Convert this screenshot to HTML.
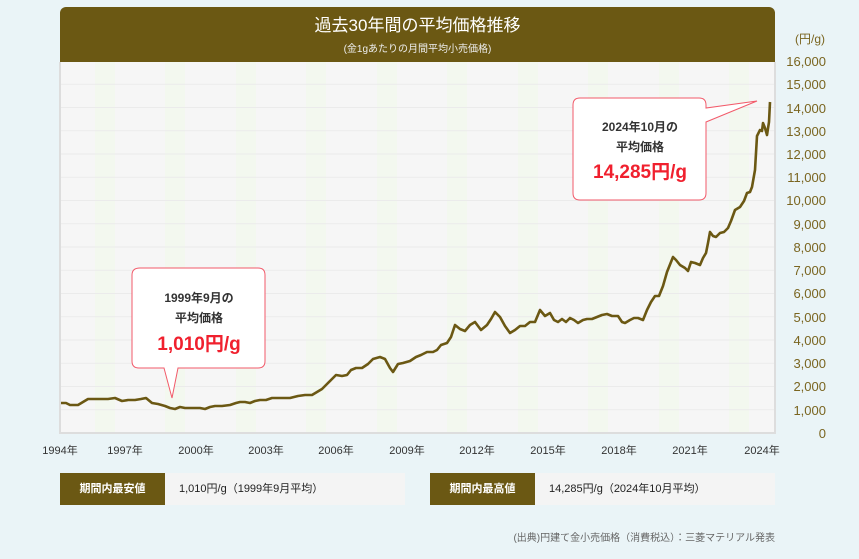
<!DOCTYPE html>
<html><head><meta charset="utf-8"><style>
body{margin:0;width:859px;height:559px;background:#eaf4f7;font-family:"Liberation Sans","Noto Sans CJK JP",sans-serif;overflow:hidden;position:relative}
.hdr{position:absolute;left:60px;top:7px;width:715px;height:55px;background:#6b5813;border-radius:6px 6px 0 0;color:#fff;text-align:center}
.hdr .t{font-size:17px;margin-top:9px;line-height:20px}
.hdr .s{font-size:10px;margin-top:4px;color:#eee}
.box{position:absolute;height:32px;top:473px;background:#f4f4f4;font-size:11px;line-height:32px;color:#222}
.box .l{display:inline-block;width:105px;background:#6b5813;color:#fff;text-align:center;margin-right:14px;font-weight:bold}
</style></head><body>
<div class="hdr"><div class="t">過去30年間の平均価格推移</div><div class="s">(金1gあたりの月間平均小売価格)</div></div>
<svg width="859" height="559" style="position:absolute;left:0;top:0" font-family="Liberation Sans, Noto Sans CJK JP, sans-serif">
<rect x="60" y="62" width="715" height="371" fill="#f6f6f6"/>
<g fill="#f3f8ef">
<rect x="95" y="62" width="20" height="371"/><rect x="165" y="62" width="20" height="371"/><rect x="236" y="62" width="20" height="371"/><rect x="306" y="62" width="20" height="371"/><rect x="377" y="62" width="20" height="371"/><rect x="447" y="62" width="20" height="371"/><rect x="518" y="62" width="20" height="371"/><rect x="588" y="62" width="20" height="371"/><rect x="659" y="62" width="20" height="371"/><rect x="729" y="62" width="20" height="371"/>
</g>
<g stroke="#ebebeb" stroke-width="1">
<line x1="60" x2="775" y1="84.3" y2="84.3"/><line x1="60" x2="775" y1="107.5" y2="107.5"/><line x1="60" x2="775" y1="130.8" y2="130.8"/><line x1="60" x2="775" y1="154" y2="154"/><line x1="60" x2="775" y1="177.3" y2="177.3"/><line x1="60" x2="775" y1="200.5" y2="200.5"/><line x1="60" x2="775" y1="223.8" y2="223.8"/><line x1="60" x2="775" y1="247" y2="247"/><line x1="60" x2="775" y1="270.3" y2="270.3"/><line x1="60" x2="775" y1="293.5" y2="293.5"/><line x1="60" x2="775" y1="316.8" y2="316.8"/><line x1="60" x2="775" y1="340" y2="340"/><line x1="60" x2="775" y1="363.3" y2="363.3"/><line x1="60" x2="775" y1="386.5" y2="386.5"/><line x1="60" x2="775" y1="409.8" y2="409.8"/>
</g>
<path d="M60 62V433H775V62" fill="none" stroke="#ddd" stroke-width="2"/>
<polyline fill="none" stroke="#6b5813" stroke-width="2.6" stroke-linejoin="round" points="61,403 66,403 70,405 78,405 83,402 88,399 94,399 100,399 108,399 115,398 122,401 128,400 135,400 141,399 146,398 152,403 158,404 165,406 170,408 175,409 180,407 185,408 190,408 195,408 200,408 205,409 210,407 215,406 222,406 230,405 236,403 240,402 245,402 250,403 255,401 260,400 266,400 272,398 280,398 290,398 298,396 305,395 312,395 317,392 322,389 327,384 331,380 336,375 342,376 347,375 351,370 356,368 362,368 368,364 373,359 380,357 385,359 390,368 393,372 398,364 403,363 410,361 416,357 421,355 427,352 433,352 437,350 441,345 447,343 451,337 455,325 460,329 465,331 470,325 475,322 481,330 487,325 491,319 495,312 500,317 505,326 510,333 515,330 520,326 525,326 530,322 535,322 540,310 545,316 550,313 554,320 558,322 562,319 566,322 570,318 574,320 578,323 583,320 587,319 592,319 597,317 602,315 607,314 612,316 618,316 622,322 625,323 630,320 634,318 638,318 643,320 647,310 651,302 655,296 659,296 663,286 667,272 671,262 673,257 676,260 680,265 685,268 688,271 691,262 695,263 700,265 703,258 706,253 708,243 710,232 713,236 716,237 720,233 724,232 728,228 731,221 735,210 740,207 744,201 747,193 750,192 752,187 755,170 757,136 760,130 762,131 763,123 765,128 767,135 769,122 770,102"/>
<g fill="#7a6520" font-size="13" text-anchor="end">
<text x="825" y="43" font-size="12">(円/g)</text>
<text x="826" y="66">16,000</text><text x="826" y="89">15,000</text><text x="826" y="113">14,000</text><text x="826" y="136">13,000</text><text x="826" y="159">12,000</text><text x="826" y="182">11,000</text><text x="826" y="205">10,000</text><text x="826" y="229">9,000</text><text x="826" y="252">8,000</text><text x="826" y="275">7,000</text><text x="826" y="298">6,000</text><text x="826" y="322">5,000</text><text x="826" y="345">4,000</text><text x="826" y="368">3,000</text><text x="826" y="391">2,000</text><text x="826" y="415">1,000</text><text x="826" y="438">0</text>
</g>
<g fill="#333" font-size="11" text-anchor="middle">
<text x="60" y="454">1994年</text><text x="125" y="454">1997年</text><text x="196" y="454">2000年</text><text x="266" y="454">2003年</text><text x="336" y="454">2006年</text><text x="407" y="454">2009年</text><text x="477" y="454">2012年</text><text x="548" y="454">2015年</text><text x="619" y="454">2018年</text><text x="690" y="454">2021年</text><text x="762" y="454">2024年</text>
</g>
<path d="M140 268H258Q265 268 265 275V361Q265 368 258 368H178L172 398L164 368H139Q132 368 132 361V275Q132 268 140 268Z" fill="#fff" stroke="#f25a6a" stroke-width="1"/>
<path d="M580 98H699Q706 98 706 105V108L757 101L706 122V193Q706 200 699 200H580Q573 200 573 193V105Q573 98 580 98Z" fill="#fff" stroke="#f25a6a" stroke-width="1"/>
<g text-anchor="middle" font-weight="bold">
<text x="199" y="302" font-size="12" fill="#333">1999年9月の</text>
<text x="199" y="322" font-size="12" fill="#333">平均価格</text>
<text x="199" y="350" font-size="19" fill="#f0202e">1,010円/g</text>
<text x="640" y="131" font-size="12" fill="#333">2024年10月の</text>
<text x="640" y="151" font-size="12" fill="#333">平均価格</text>
<text x="640" y="178" font-size="19" fill="#f0202e">14,285円/g</text>
</g>
<text x="775" y="541" font-size="10" fill="#666" text-anchor="end">(出典)円建て金小売価格（消費税込）：三菱マテリアル発表</text>
</svg>
<div class="box" style="left:60px;width:345px"><span class="l">期間内最安値</span>1,010円/g（1999年9月平均）</div>
<div class="box" style="left:430px;width:345px"><span class="l">期間内最高値</span>14,285円/g（2024年10月平均）</div>
</body></html>
